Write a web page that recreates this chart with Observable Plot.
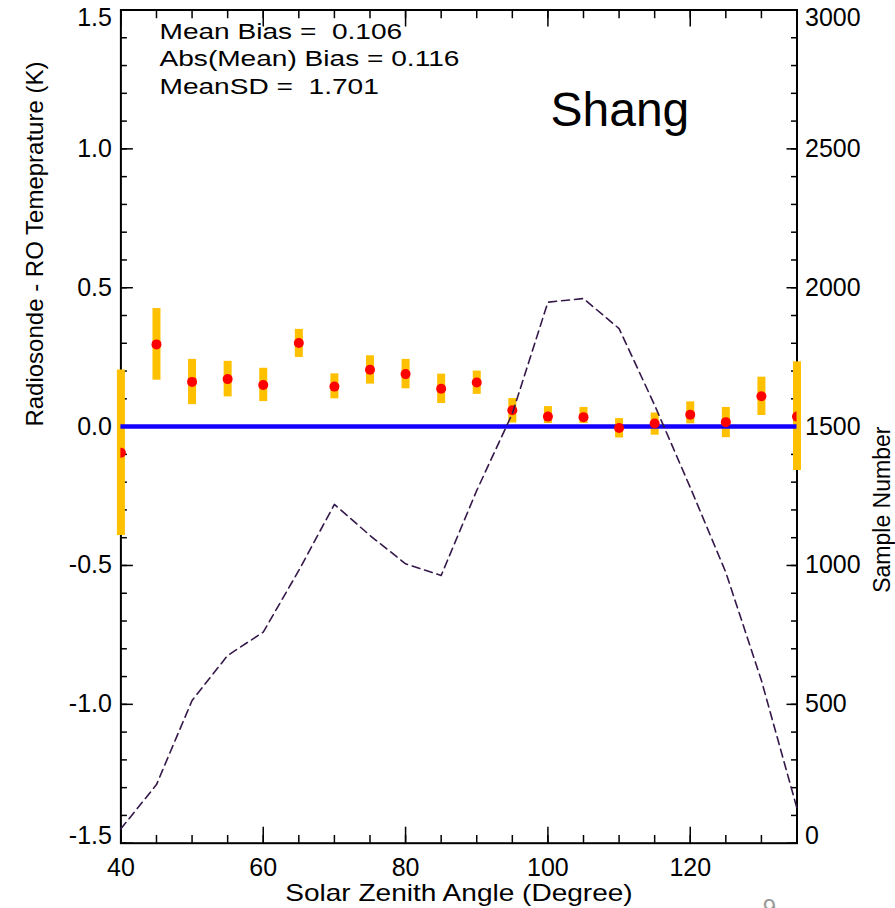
<!DOCTYPE html>
<html>
<head>
<meta charset="utf-8">
<script src="https://cdn.jsdelivr.net/npm/d3@7"></script>
<script src="https://cdn.jsdelivr.net/npm/@observablehq/plot@0.6"></script>
<style>
  body { margin: 0; background: #fff; }
  text { white-space: pre; }
</style>
</head>
<body>
<script>
// ---- data ----
const angles       = [40, 45, 50, 55, 60, 65, 70, 75, 80, 85, 90, 95, 100, 105, 110, 115, 120, 125, 130, 135];
const bias         = [-0.094, 0.296, 0.161, 0.171, 0.150, 0.301, 0.144, 0.205, 0.189, 0.136, 0.159, 0.059, 0.036, 0.034, -0.005, 0.011, 0.043, 0.016, 0.109, 0.036];
const barTop       = [0.204, 0.425, 0.242, 0.235, 0.210, 0.350, 0.190, 0.255, 0.242, 0.189, 0.200, 0.101, 0.072, 0.069, 0.029, 0.049, 0.089, 0.069, 0.178, 0.233];
const barBottom    = [-0.392, 0.167, 0.079, 0.107, 0.090, 0.249, 0.100, 0.153, 0.136, 0.083, 0.116, 0.013, 0.011, 0.011, -0.041, -0.031, 0.010, -0.040, 0.040, -0.158];
const sampleNumber = [52, 211, 514, 676, 760, 982, 1220, 1108, 1006, 964, 1270, 1547, 1948, 1961, 1853, 1577, 1281, 975, 586, 125];

const leftTickLabels  = [-1.5, -1.0, -0.5, 0.0, 0.5, 1.0, 1.5];
const rightTickLabels = [0, 500, 1000, 1500, 2000, 2500, 3000];
const xTickLabels     = [40, 60, 80, 100, 120];
const statsLines = ["Mean Bias =  0.106", "Abs(Mean) Bias = 0.116", "MeanSD =  1.701"];
const stationName = "Shang";
const xTitle  = "Solar Zenith Angle (Degree)";
const yTitle  = "Radiosonde - RO Temeprature (K)";
const y2Title = "Sample Number";
const pageNumber = "9";

// ---- derived ----
const rows = angles.map((a, i) => ({angle: a, bias: bias[i], top: barTop[i], bottom: barBottom[i], n: sampleNumber[i]}));
const toLeft = n => n / 1000 - 1.5;          // right axis (0..3000) -> left axis (-1.5..1.5)
const fromLeft = v => Math.round((v + 1.5) * 1000);

const yMinor = d3.range(-15, 16).map(i => i / 10);
const xMinor = d3.range(40, 136, 5);
const yInner = leftTickLabels.slice(1, -1);
const rInner = rightTickLabels.slice(1, -1).map(toLeft);

const FONT = "Liberation Sans, Arial, Helvetica, sans-serif";
const fmtL = d => d.toFixed(1);
const fmtR = d => String(fromLeft(d));

const tickStyle = {stroke: "black", strokeWidth: 1.5, fill: "none", label: null};

const chart = Plot.plot({
  width: 895,
  height: 908,
  marginLeft: 120.4,
  marginRight: 98.5,
  marginTop: 9.5,
  marginBottom: 65.3,
  style: {fontFamily: FONT, fontSize: "25px", background: "#fff", color: "black"},
  x: {domain: [40, 135], axis: null},
  y: {domain: [-1.5, 1.5], axis: null},
  marks: [
    // inward ticks on all four sides
    Plot.axisY(yMinor, {anchor: "left", tickSize: 6.5, dx: 6.5, ...tickStyle}),
    Plot.axisY(leftTickLabels, {anchor: "left", tickSize: 12.5, dx: 12.5, ...tickStyle}),
    Plot.axisY(yMinor, {anchor: "right", tickSize: 6.5, dx: -6.5, ...tickStyle}),
    Plot.axisY(leftTickLabels, {anchor: "right", tickSize: 11, dx: -11, ...tickStyle}),
    Plot.axisX(xMinor, {anchor: "bottom", tickSize: 7.7, dy: -7.7, ...tickStyle}),
    Plot.axisX(xTickLabels, {anchor: "bottom", tickSize: 16, dy: -16, ...tickStyle}),
    Plot.axisX(xMinor, {anchor: "top", tickSize: 7.7, dy: 7.7, ...tickStyle}),
    Plot.axisX(xTickLabels, {anchor: "top", tickSize: 16, dy: 16, ...tickStyle}),

    // tick labels
    Plot.axisY(yInner, {anchor: "left", tickSize: 0, tickPadding: 9, tickFormat: fmtL, fontSize: 25, label: null}),
    Plot.axisY([-1.5], {anchor: "left", tickSize: 0, tickPadding: 9, tickFormat: fmtL, fontSize: 25, label: null, dy: -7.7}),
    Plot.axisY([1.5], {anchor: "left", tickSize: 0, tickPadding: 9, tickFormat: fmtL, fontSize: 25, label: null, dy: 7.5}),
    Plot.axisY(rInner, {anchor: "right", tickSize: 0, tickPadding: 8, tickFormat: fmtR, fontSize: 25, label: null}),
    Plot.axisY([toLeft(0)], {anchor: "right", tickSize: 0, tickPadding: 8, tickFormat: fmtR, fontSize: 25, label: null, dy: -7.7}),
    Plot.axisY([toLeft(3000)], {anchor: "right", tickSize: 0, tickPadding: 8, tickFormat: fmtR, fontSize: 25, label: null, dy: 7.5}),
    Plot.axisX(xTickLabels, {anchor: "bottom", tickSize: 0, tickPadding: 15, fontSize: 25, label: null}),

    // frame
    Plot.frame({stroke: "black", strokeWidth: 2}),

    // error bars (not clipped, they overdraw the frame)
    Plot.ruleX(rows, {x: "angle", y1: "bottom", y2: "top", stroke: "#ffc000", strokeWidth: 8}),
    // zero line
    Plot.ruleY([0], {stroke: "#1400ff", strokeWidth: 4.5}),
    // mean bias dots
    Plot.dot(rows, {x: "angle", y: "bias", r: 5, fill: "#ff0000", stroke: "none", clip: true}),
    // sample number (right axis)
    Plot.line(rows, {x: "angle", y: d => toLeft(d.n), stroke: "#35184a", strokeWidth: 1.6, strokeDasharray: "8,5"}),

    // annotations
    ...statsLines.map((s, i) => Plot.text([s], {
      frameAnchor: "top-left", textAnchor: "start", lineAnchor: "bottom",
      dx: 38.6, dy: 28.8 + i * 27.5, fontSize: 22, fill: "black"
    })),
    Plot.text([stationName], {frameAnchor: "top-left", textAnchor: "start", lineAnchor: "bottom",
      dx: 429.6, dy: 115.5, fontSize: 48, fill: "black"}),

    // axis titles
    Plot.text([xTitle], {frameAnchor: "bottom", lineAnchor: "bottom", dy: 58, fontSize: 24, fill: "black"}),
    Plot.text([yTitle], {frameAnchor: "left", rotate: -90, dx: -85.4, fontSize: 24, fill: "black"}),
    Plot.text([y2Title], {frameAnchor: "right", rotate: -90, dx: 85.5, fontSize: 23, fill: "black"}),

    // slide page number (partially cut, as in the slide)
    Plot.text([pageNumber], {frameAnchor: "bottom-right", lineAnchor: "top", dx: -21, dy: 55.3, fontSize: 24, fill: "#9a9a9a"})
  ]
});

document.body.append(chart);

// the source image is stretched horizontally: widen the non-rotated label texts to match
function stretch(strings, k) {
  chart.querySelectorAll("text").forEach(el => {
    if (!strings.includes(el.textContent)) return;
    const w = el.getComputedTextLength();
    if (!(w > 0)) return;
    el.setAttribute("textLength", (w * k).toFixed(1));
    el.setAttribute("lengthAdjust", "spacingAndGlyphs");
  });
}
stretch(statsLines, 1.276);
stretch([xTitle], 1.168);
</script>
</body>
</html>
